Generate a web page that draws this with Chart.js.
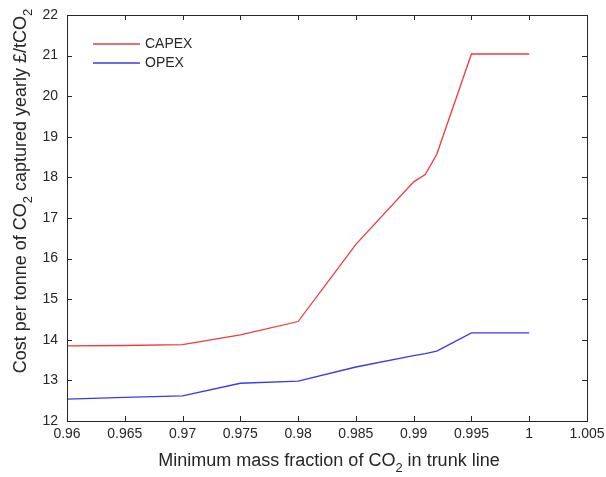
<!DOCTYPE html>
<html>
<head>
<meta charset="utf-8">
<script src="https://cdn.jsdelivr.net/npm/chart.js@4"></script>
<style>
  html, body { margin: 0; padding: 0; background: #fff; }
  canvas { display: block; }
</style>
</head>
<body>
<canvas id="grafico" width="606" height="477"></canvas>
<script>
'use strict';

// minimum CO2 mass fraction in the trunk line
const fractions = [0.96, 0.965, 0.97, 0.975, 0.98, 0.985, 0.99, 0.991, 0.992, 0.995, 1.0];
// cost per tonne captured, £/tCO2
const capex = [13.85, 13.86, 13.88, 14.12, 14.45, 16.35, 17.89, 18.07, 18.57, 21.04, 21.04];
const opex  = [12.54, 12.58, 12.62, 12.93, 12.98, 13.33, 13.61, 13.66, 13.72, 14.17, 14.17];

const xTicks = [0.96, 0.965, 0.97, 0.975, 0.98, 0.985, 0.99, 0.995, 1, 1.005];
const yTicks = [12, 13, 14, 15, 16, 17, 18, 19, 20, 21, 22];

const FONT = "'Liberation Sans', Arial, sans-serif";
const INK = '#262626';

function pts(ys) {
  return fractions.map((x, i) => ({ x: x, y: ys[i] }));
}

// text with subscript runs: parts = [[text, isSub], ...]
function drawRich(ctx, parts, size) {
  const sub = Math.round(size * 0.7);
  let w = 0;
  parts.forEach(p => {
    ctx.font = (p[1] ? sub : size) + 'px ' + FONT;
    w += ctx.measureText(p[0]).width;
  });
  let x = -w / 2;
  parts.forEach(p => {
    ctx.font = (p[1] ? sub : size) + 'px ' + FONT;
    ctx.fillText(p[0], x, p[1] ? size * 0.4 : 0);
    x += ctx.measureText(p[0]).width;
  });
}

const xTitle = [['Minimum mass fraction of CO', false], ['2', true], [' in trunk line', false]];
const yTitle = [['Cost per tonne of CO', false], ['2', true], [' captured yearly \u00a3/tCO', false], ['2', true]];

// box, inward ticks on all sides, axis titles and legend
const frame = {
  id: 'frame',
  afterDraw(chart) {
    const { ctx, chartArea: a, scales } = chart;
    ctx.save();
    ctx.strokeStyle = INK;
    ctx.lineWidth = 1;
    ctx.strokeRect(a.left + 0.5, a.top + 0.5, a.right - a.left, a.bottom - a.top);

    const tl = 5;
    ctx.beginPath();
    xTicks.forEach(v => {
      const px = Math.round(scales.x.getPixelForValue(v)) + 0.5;
      ctx.moveTo(px, a.bottom); ctx.lineTo(px, a.bottom - tl);
      ctx.moveTo(px, a.top); ctx.lineTo(px, a.top + tl);
    });
    yTicks.forEach(v => {
      const py = Math.round(scales.y.getPixelForValue(v)) + 0.5;
      ctx.moveTo(a.left, py); ctx.lineTo(a.left + tl, py);
      ctx.moveTo(a.right, py); ctx.lineTo(a.right - tl, py);
    });
    ctx.stroke();

    ctx.fillStyle = INK;
    ctx.textBaseline = 'middle';
    ctx.textAlign = 'left';
    ctx.save();
    ctx.translate((a.left + a.right) / 2 + 2, 461);
    drawRich(ctx, xTitle, 18);
    ctx.restore();

    ctx.save();
    ctx.translate(21, 191);
    ctx.rotate(-Math.PI / 2);
    drawRich(ctx, yTitle, 18);
    ctx.restore();

    // legend
    ctx.font = '14px ' + FONT;
    chart.data.datasets.forEach((ds, i) => {
      const y = a.top + 29 + i * 19;
      ctx.strokeStyle = ds.borderColor;
      ctx.lineWidth = 1.3;
      ctx.beginPath();
      ctx.moveTo(a.left + 26, y);
      ctx.lineTo(a.left + 73, y);
      ctx.stroke();
      ctx.fillStyle = INK;
      ctx.fillText(ds.label, a.left + 78, y);
    });
    ctx.restore();
  }
};

new Chart(document.getElementById('grafico').getContext('2d'), {
  type: 'line',
  data: {
    datasets: [
      { label: 'CAPEX', data: pts(capex), borderColor: 'rgb(238, 58, 62)', borderWidth: 1.3, pointRadius: 0, tension: 0 },
      { label: 'OPEX', data: pts(opex), borderColor: 'rgb(58, 58, 232)', borderWidth: 1.3, pointRadius: 0, tension: 0 }
    ]
  },
  options: {
    responsive: false,
    animation: false,
    layout: { padding: { top: 15, right: 19, left: 0, bottom: 0 } },
    plugins: { legend: { display: false }, tooltip: { enabled: false } },
    scales: {
      x: {
        type: 'linear',
        min: 0.96,
        max: 1.005,
        afterBuildTicks: s => { s.ticks = xTicks.map(v => ({ value: v })); },
        afterFit: s => { s.height = 56; s.paddingLeft = 0; s.paddingRight = 0; },
        grid: { display: false, drawTicks: false },
        border: { display: false },
        ticks: {
          padding: 5, maxRotation: 0, autoSkip: false, color: INK,
          font: { family: FONT, size: 14 },
          callback: v => String(v)
        }
      },
      y: {
        min: 12,
        max: 22,
        afterBuildTicks: s => { s.ticks = yTicks.map(v => ({ value: v })); },
        afterFit: s => { s.width = 67; s.paddingTop = 0; s.paddingBottom = 0; },
        grid: { display: false, drawTicks: false },
        border: { display: false },
        ticks: {
          padding: 9, color: INK,
          font: { family: FONT, size: 14 }
        }
      }
    }
  },
  plugins: [frame]
});
</script>
</body>
</html>
